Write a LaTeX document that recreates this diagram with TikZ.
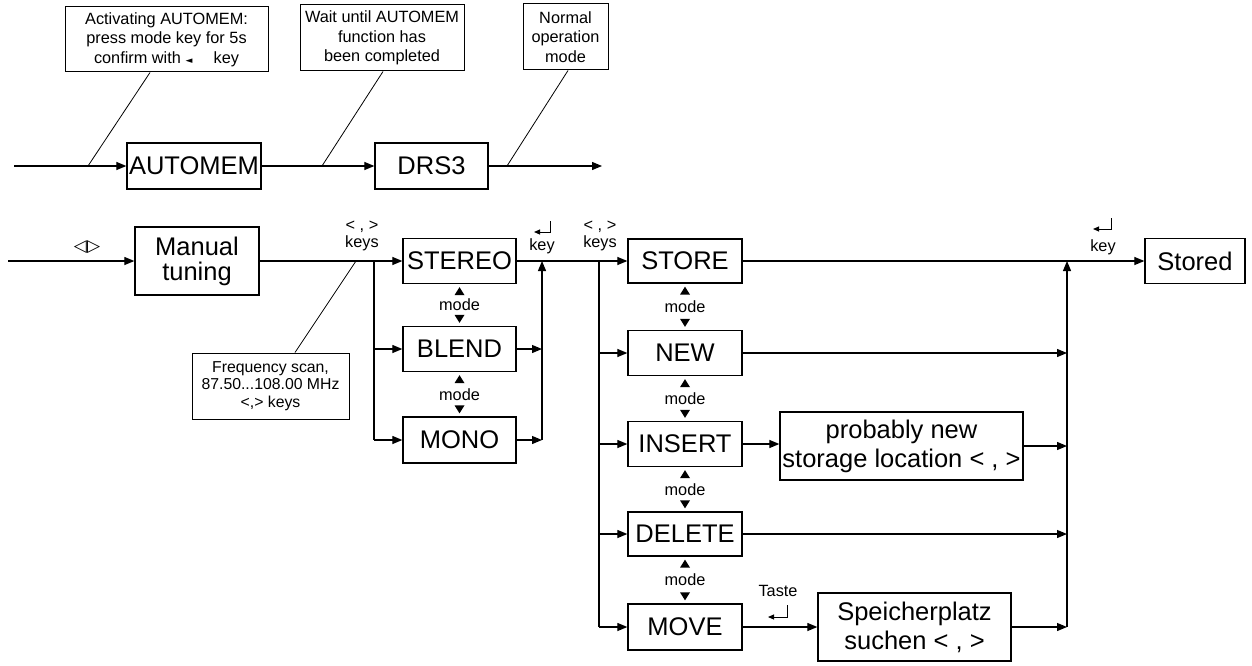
\documentclass[tikz,border=0pt]{standalone}
\usepackage{fontspec}
\setmainfont{Liberation Sans}
\newfontfamily\dejavu{DejaVu Sans}
\usetikzlibrary{arrows.meta,calc}
\begin{document}
\begin{tikzpicture}[x=1pt,y=-1pt,
  line width=1.2pt,
  box/.style={draw, line width=1.3pt, inner sep=0pt, align=center, font=\fontsize{25.5}{29}\selectfont},
  note/.style={draw, line width=1pt, inner sep=0pt, align=center, font=\fontsize{16.3}{19.5}\selectfont},
  lbl/.style={inner sep=0pt, align=center, font=\fontsize{16.3}{16.5}\selectfont},
  arr/.style={-{Triangle[length=10pt,width=8pt]}},
  sarr/.style={-{Triangle[length=6pt,width=5pt]}, line width=1pt},
  thinline/.style={line width=0.8pt}
]
\useasboundingbox (0,0) rectangle (1252,666);

% ---------- top row ----------
\node[note, minimum width=203pt, minimum height=65pt] (c1) at (166.5,39.5)
  {Activating AUTOMEM:\\press mode key for 5s\\confirm with {\dejavu\fontsize{9}{9}\selectfont ◄}\hspace{1.3em}key};
\node[note, minimum width=164pt, minimum height=66pt] (c2) at (382,38)
  {Wait until AUTOMEM\\function has\\been completed};
\node[note, minimum width=85pt, minimum height=66pt] (c3) at (565.5,37)
  {Normal\\operation\\mode};

\node[box, minimum width=134pt, minimum height=46pt] (automem) at (194,166) {AUTOMEM};
\node[box, minimum width=113pt, minimum height=46pt] (drs3) at (431.5,166) {DRS3};

\coordinate (s1) at (14,166);
\coordinate (e1) at (602,166);
\draw[arr] (s1) -- (automem);
\draw[arr] (automem) -- (drs3);
\draw[arr] (drs3) -- (e1);

\coordinate (p1) at (88,166);
\coordinate (p2) at (322,166);
\coordinate (p3) at (507,166);
\draw[thinline] ([xshift=-16.5pt]c1.south) -- (p1);
\draw[thinline] ([xshift=1pt]c2.south) -- (p2);
\draw[thinline] ([xshift=2.5pt]c3.south) -- (p3);

% ---------- bottom part ----------
\coordinate (s2) at (8,261);
\node[lbl, font=\dejavu\fontsize{17}{17}\selectfont] (lr) at (87,247) {◁▷};
\node[box, minimum width=124pt, minimum height=68pt, font=\fontsize{25.5}{25}\selectfont] (manual) at (197,261) {Manual\\tuning};
\draw[arr] (s2) -- (manual);

\node[box, minimum width=113pt, minimum height=45pt] (stereo) at (459.5,261) {STEREO};
\node[box, minimum width=113pt, minimum height=45pt] (blend) at (459.5,349) {BLEND};
\node[box, minimum width=113pt, minimum height=46pt] (mono) at (459.5,440) {MONO};

\node[note, minimum width=157pt, minimum height=66pt, font=\fontsize{15.8}{17.5}\selectfont] (freq) at (270.5,386)
  {Frequency scan,\\87.50...108.00 MHz\\<,> keys};

\node[lbl] (keys1) at (362,236) {< , >\\keys};
\coordinate (kc) at (356,261);
\draw[thinline] ([xshift=24.5pt]freq.north) -- (kc);

\coordinate (b1) at (374,261);
\draw[arr] (manual) -- (stereo);
\draw (b1) -- (b1 |- mono);
\draw[arr] (b1 |- blend) -- (blend);
\draw[arr] (b1 |- mono) -- (mono);

\coordinate (k1) at (542,261);
\draw[arr] (blend) -- (k1 |- blend);
\draw[arr] (mono) -- (k1 |- mono);
\draw[arr] (k1 |- mono) -- (k1);

\node[lbl] (key1) at (542,246) {key};
\coordinate (r1a) at (550,221);
\coordinate (r1b) at (550,232);
\coordinate (r1c) at (534,232);
\draw[sarr] (r1a) -- (r1b) -- (r1c);

\node[box, minimum width=114pt, minimum height=44pt] (store) at (685,261) {STORE};
\node[box, minimum width=114pt, minimum height=45pt] (new) at (685,353) {NEW};
\node[box, minimum width=114pt, minimum height=45pt] (insert) at (685,444) {INSERT};
\node[box, minimum width=114pt, minimum height=44pt] (delete) at (685,534) {DELETE};
\node[box, minimum width=114pt, minimum height=46pt] (move) at (685,627) {MOVE};

\node[lbl] (keys2) at (600,236) {< , >\\keys};
\draw[arr] (stereo) -- (store);
\coordinate (b2) at (599,261);
\draw (b2) -- (b2 |- move);
\draw[arr] (b2 |- new) -- (new);
\draw[arr] (b2 |- insert) -- (insert);
\draw[arr] (b2 |- delete) -- (delete);
\draw[arr] (b2 |- move) -- (move);

\foreach \a/\b/\n in {stereo/blend/m1, blend/mono/m2, store/new/m3, new/insert/m4, insert/delete/m5, delete/move/m6} {
  \path (\a.south) -- (\b.north) node[lbl, pos=0.5] (\n) {mode};
  \fill ([yshift=-3pt]\a.south) -- ++(-5,8) -- ++(10,0) -- cycle;
  \fill ([yshift=3pt]\b.north) -- ++(-5,-8) -- ++(10,0) -- cycle;
}

\node[box, minimum width=243pt, minimum height=68pt] (prob) at (901.5,446) {probably new\\storage location < , >};
\node[box, minimum width=193pt, minimum height=68pt] (speicher) at (914.5,627) {Speicherplatz\\suchen < , >};
\node[box, minimum width=100pt, minimum height=45pt] (stored) at (1195,261) {Stored};

\node[lbl] (taste) at (778,591) {Taste};
\coordinate (r3a) at (787,605);
\coordinate (r3b) at (787,617);
\coordinate (r3c) at (768,617);
\draw[sarr] (r3a) -- (r3b) -- (r3c);

\coordinate (k3) at (1067,261);
\draw[arr] (store) -- (stored);
\draw[arr] (new) -- (k3 |- new);
\draw[arr] (insert) -- (insert -| prob.west);
\draw[arr] (prob) -- (k3 |- prob);
\draw[arr] (delete) -- (k3 |- delete);
\draw[arr] (move) -- (speicher);
\draw[arr] (speicher) -- (k3 |- speicher);
\draw[arr] (k3 |- speicher) -- (k3);

\node[lbl] (key2) at (1103,247) {key};
\coordinate (r2a) at (1111,218);
\coordinate (r2b) at (1111,229);
\coordinate (r2c) at (1093,229);
\draw[sarr] (r2a) -- (r2b) -- (r2c);
\end{tikzpicture}
\end{document}
